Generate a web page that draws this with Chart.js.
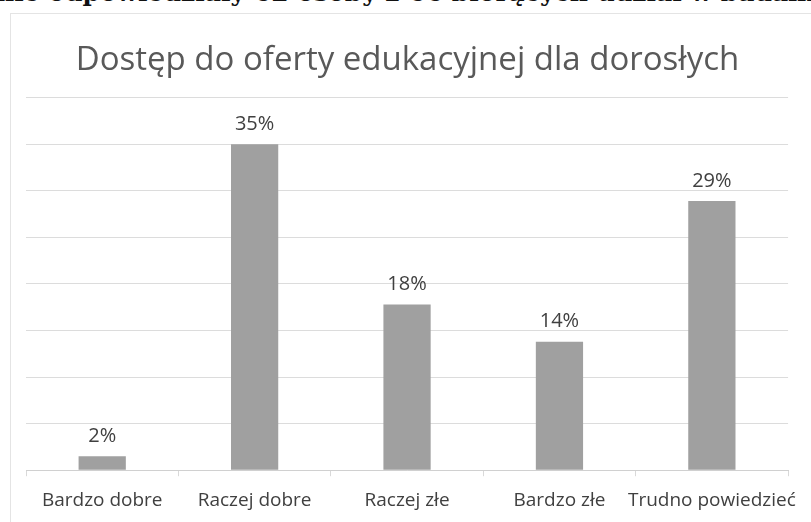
<!DOCTYPE html>
<html>
<head>
<meta charset="utf-8">
<script src="https://cdn.jsdelivr.net/npm/chart.js@4"></script>
<style>
  html, body { margin: 0; padding: 0; background: #ffffff; }
  body { width: 811px; height: 522px; position: relative; overflow: hidden; }
  #cut { position: absolute; left: -4px; top: -22px; white-space: nowrap;
         font-family: "DejaVu Serif", serif; font-weight: bold; font-size: 25px; color: #111; }
  #frame { position: absolute; left: 10px; top: 13px; width: 820px; height: 540px;
           border-left: 1px solid #e4e4e4; border-top: 1px solid #e4e4e4; }
  #wrap { position: absolute; left: 0; top: 0; width: 811px; height: 522px; }
</style>
</head>
<body>
<div id="cut">nie odpowiedziały 62 osoby z 66 biorących udział w badaniu</div>
<div id="frame"></div>
<div id="wrap"><canvas id="c" width="811" height="522"></canvas></div>
<script>
const titleText = "Dostęp do oferty edukacyjnej dla dorosłych";
const categories = ["Bardzo dobre", "Raczej dobre", "Raczej złe", "Bardzo złe", "Trudno powiedzieć"];
const values = [1.5, 35, 17.8, 13.8, 28.9];
const valueLabels = ["2%", "35%", "18%", "14%", "29%"];
const yMax = 40;
const yStep = 5;

const labelPlugin = {
  id: 'valueLabels',
  afterDatasetsDraw(chart) {
    const ctx = chart.ctx;
    const meta = chart.getDatasetMeta(0);
    ctx.save();
    ctx.font = '20px "Open Sans"';
    ctx.fillStyle = '#404040';
    ctx.textAlign = 'center';
    ctx.textBaseline = 'bottom';
    meta.data.forEach((bar, i) => {
      ctx.fillText(valueLabels[i], bar.x, bar.y - 10);
    });
    ctx.restore();
  }
};

new Chart(document.getElementById('c'), {
  type: 'bar',
  data: {
    labels: categories,
    datasets: [{
      data: values,
      backgroundColor: '#a0a0a0',
      borderWidth: 0,
      categoryPercentage: 1.0,
      barPercentage: 0.31
    }]
  },
  options: {
    responsive: false,
    animation: false,
    events: [],
    layout: { padding: { left: 26, right: 22, top: 0, bottom: -3 } },
    plugins: {
      legend: { display: false },
      tooltip: { enabled: false },
      title: {
        display: true,
        text: titleText,
        color: '#595959',
        font: { family: 'Open Sans', size: 33, weight: 'normal' },
        padding: { top: 41, bottom: 17 }
      }
    },
    scales: {
      x: {
        grid: { display: true, drawOnChartArea: false, drawTicks: true, tickLength: 6, color: '#d9d9d9', offset: true },
        border: { display: true, color: '#d0d0d0', width: 1 },
        ticks: { color: '#404040', font: { family: 'Open Sans', size: 19 }, maxRotation: 0, autoSkip: false, padding: 13 }
      },
      y: {
        min: 0, max: yMax,
        ticks: { display: false, stepSize: yStep },
        grid: { color: '#dcdcdc', drawTicks: false },
        border: { display: false }
      }
    }
  },
  plugins: [labelPlugin]
});
</script>
</body>
</html>
